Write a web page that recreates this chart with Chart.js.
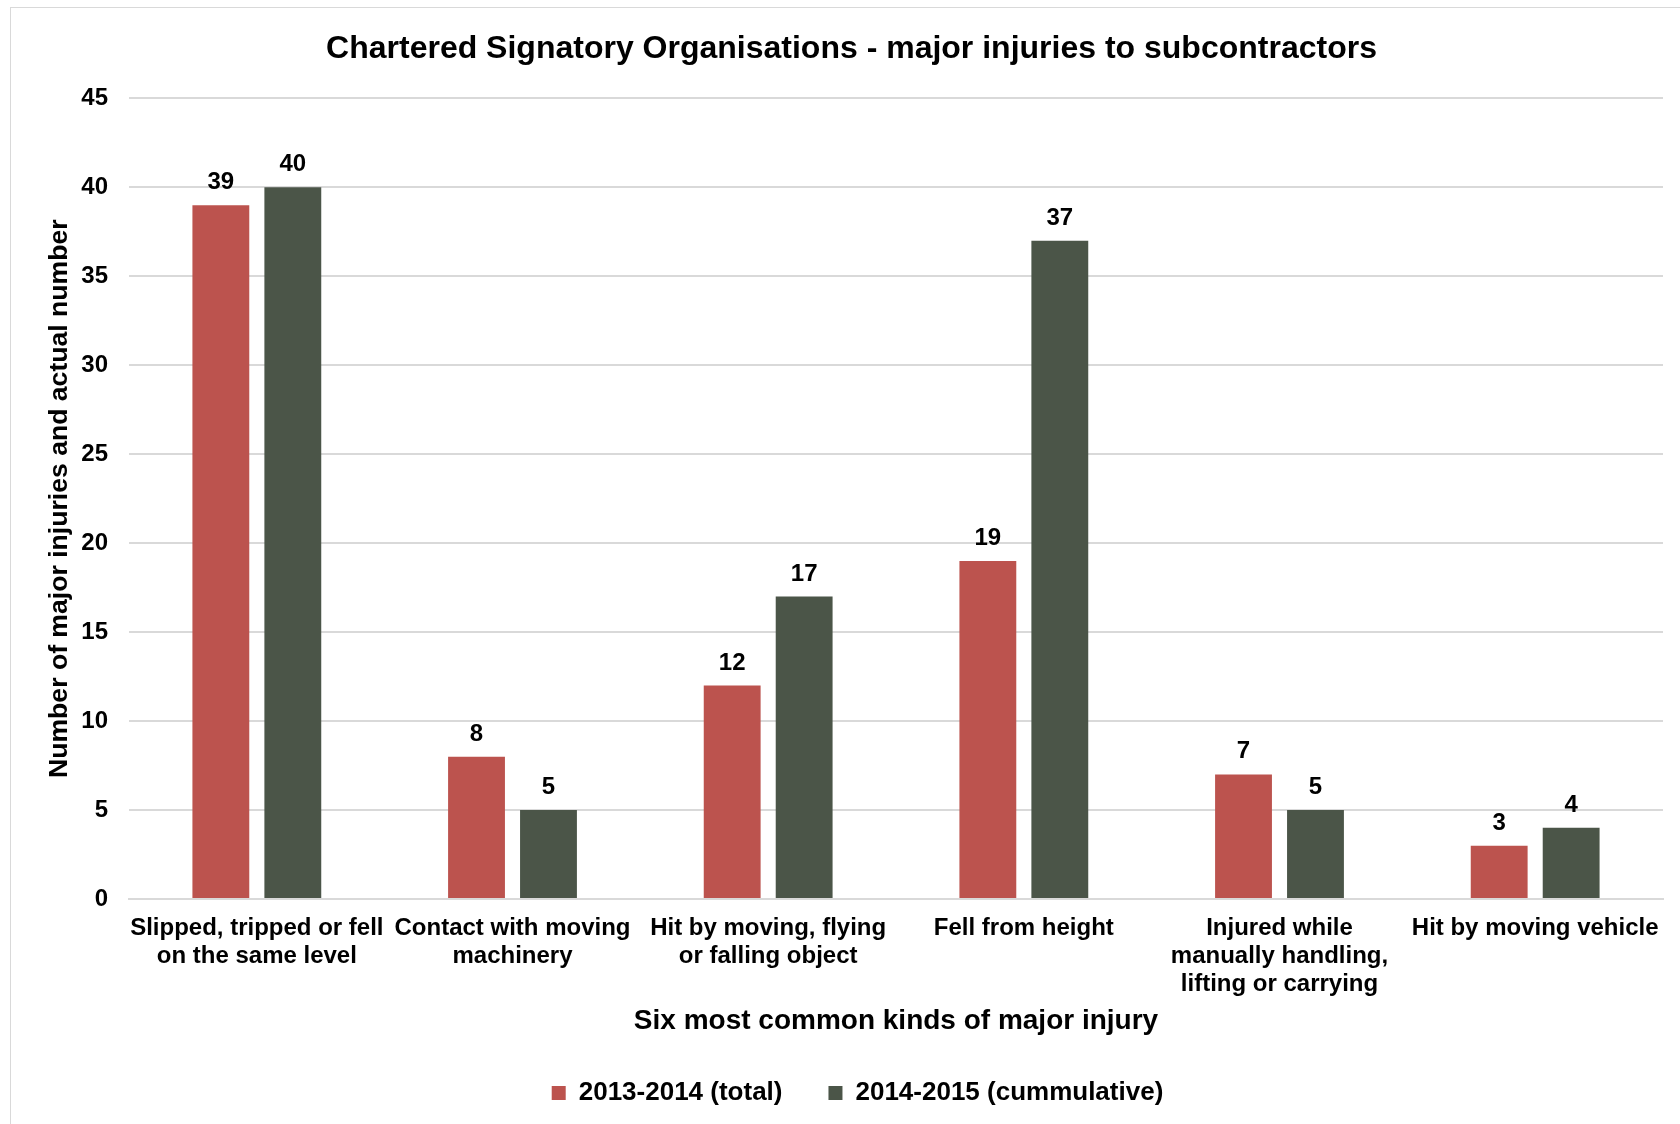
<!DOCTYPE html>
<html lang="en">
<head>
    <meta charset="UTF-8">
    <title>Chartered Signatory Organisations - major injuries to subcontractors</title>
    <script src="https://cdn.jsdelivr.net/npm/chart.js"></script>
    <style>
        html, body { margin: 0; padding: 0; background: #fff; overflow: hidden; }
        #wrap { position: relative; width: 1680px; height: 1124px; }
        #frame { position: absolute; left: 10px; top: 7px; width: 1700px; height: 1140px; border: 1px solid #D9D9D9; }
        #chart { position: absolute; left: 0; top: 0; }
    </style>
</head>
<body>
    <div id="wrap">
        <div id="frame"></div>
        <canvas id="chart" width="1680" height="1124"></canvas>
    </div>

    <script>
        // Chart data
        const categories = [
            ['Slipped, tripped or fell', 'on the same level'],
            ['Contact with moving', 'machinery'],
            ['Hit by moving, flying', 'or falling object'],
            ['Fell from height'],
            ['Injured while', 'manually handling,', 'lifting or carrying'],
            ['Hit by moving vehicle']
        ];
        const seriesNames = ['2013-2014 (total)', '2014-2015 (cummulative)'];
        const values2013 = [39, 8, 12, 19, 7, 3];
        const values2014 = [40, 5, 17, 37, 5, 4];
        const yTicks = [0, 5, 10, 15, 20, 25, 30, 35, 40, 45];

        const fontFamily = '"Liberation Sans", Arial, sans-serif';

        // Value labels above each bar
        const barValueLabels = {
            id: 'barValueLabels',
            afterDatasetsDraw(chart) {
                const ctx = chart.ctx;
                ctx.save();
                ctx.font = 'bold 24px ' + fontFamily;
                ctx.fillStyle = '#000';
                ctx.textAlign = 'center';
                ctx.textBaseline = 'alphabetic';
                chart.data.datasets.forEach((ds, i) => {
                    chart.getDatasetMeta(i).data.forEach((bar, j) => {
                        ctx.fillText(String(ds.data[j]), bar.x, bar.y - 16);
                    });
                });
                ctx.restore();
            }
        };

        // legend sits a little right of the chart centre in the original
        const legendNudge = {
            id: 'legendNudge',
            afterLayout(chart) {
                chart.legend.left += 6;
                chart.legend.right += 6;
            }
        };

        const ctx = document.getElementById('chart').getContext('2d');
        const chart = new Chart(ctx, {
            type: 'bar',
            data: {
                labels: categories,
                datasets: [{
                    label: seriesNames[0],
                    data: values2013,
                    backgroundColor: '#BC534E',
                    borderWidth: 0,
                    categoryPercentage: 0.563,
                    barPercentage: 0.79
                }, {
                    label: seriesNames[1],
                    data: values2014,
                    backgroundColor: '#4B5548',
                    borderWidth: 0,
                    categoryPercentage: 0.563,
                    barPercentage: 0.79
                }]
            },
            options: {
                responsive: false,
                animation: false,
                devicePixelRatio: 1,
                layout: {
                    padding: { left: 40, right: 17, top: 0, bottom: 8 }
                },
                plugins: {
                    title: {
                        display: true,
                        text: 'Chartered Signatory Organisations - major injuries to subcontractors',
                        color: '#000',
                        font: { family: fontFamily, size: 32, weight: 'bold' },
                        padding: { top: 30, bottom: 30 }
                    },
                    legend: {
                        position: 'bottom',
                        labels: {
                            color: '#000',
                            font: { family: fontFamily, size: 26, weight: 'bold' },
                            boxWidth: 14,
                            boxHeight: 14,
                            padding: 46
                        }
                    },
                    tooltip: { enabled: false }
                },
                scales: {
                    x: {
                        grid: { display: false, drawTicks: false },
                        border: { display: true, color: '#D9D9D9', width: 2 },
                        ticks: {
                            color: '#000',
                            font: { family: fontFamily, size: 24, weight: 'bold', lineHeight: '28px' },
                            padding: 15,
                            maxRotation: 0,
                            minRotation: 0,
                            autoSkip: false
                        },
                        title: {
                            display: true,
                            text: 'Six most common kinds of major injury',
                            color: '#000',
                            font: { family: fontFamily, size: 28, weight: 'bold' },
                            padding: { top: 0, bottom: -4 }
                        },
                        afterFit(scale) { scale.height = 135; }
                    },
                    y: {
                        min: 0,
                        max: 45,
                        afterBuildTicks(scale) { scale.ticks = yTicks.map(v => ({ value: v })); },
                        grid: { color: '#D9D9D9', lineWidth: 2, drawTicks: false },
                        border: { display: false },
                        ticks: {
                            color: '#000',
                            font: { family: fontFamily, size: 24, weight: 'bold' },
                            padding: 21
                        },
                        title: {
                            display: true,
                            text: 'Number of major injuries and actual number',
                            color: '#000',
                            font: { family: fontFamily, size: 26.6, weight: 'bold' },
                            padding: { top: 4, bottom: 0 }
                        },
                        afterFit(scale) { scale.width = 89; }
                    }
                }
            },
            plugins: [barValueLabels, legendNudge]
        });
    </script>
</body>
</html>
